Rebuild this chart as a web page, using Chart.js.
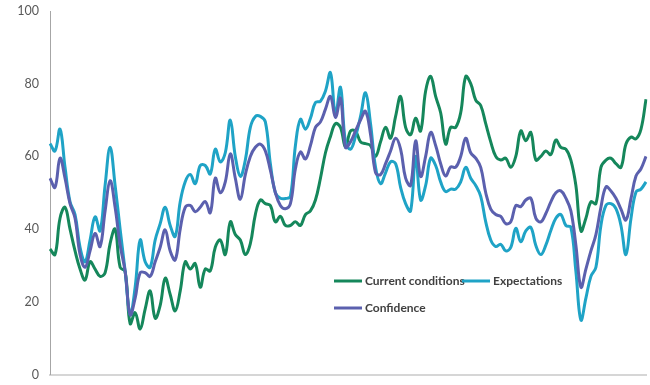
<!DOCTYPE html>
<html>
<head>
<meta charset="utf-8">
<script src="https://cdn.jsdelivr.net/npm/chart.js@4.4.1/dist/chart.umd.min.js"></script>
<style>
  html, body { margin: 0; padding: 0; background: #ffffff; }
  #wrap { width: 650px; height: 385px; }
</style>
</head>
<body>
<div id="wrap"><canvas id="chart" width="650" height="385"></canvas></div>
<script>
// monthly readings
const currentConditions = [
    34.5, 33, 43, 46, 40, 34, 29, 26, 31, 29,
    27, 28, 36, 40, 29.5, 28.3, 14, 17, 12.5, 18,
    23, 15.5, 19, 26.5, 22, 17.5, 23, 31, 29, 30.5,
    24, 29, 28.5, 35, 37, 33, 42, 38.5, 37, 33,
    36, 44, 48, 47, 46.5, 42, 43.5, 41, 41, 42,
    41, 44, 45, 48, 54, 61, 65.5, 69, 68, 62.5,
    67, 67, 64, 63.5, 63, 60, 64, 68, 65, 71,
    76.5, 68, 66, 70.5, 67, 78, 82, 76.5, 72, 63.4,
    68, 68, 72, 82, 80, 75.5, 74, 69, 64, 60,
    59, 59.5, 57, 60, 67, 64.3, 66.6, 59, 60, 61.5,
    60.5, 64.5, 62.5, 62, 59, 52, 39.5, 43, 47.5, 47,
    57, 59, 59.5, 58, 57, 63.4, 65.3, 64.8, 67.5, 75.7
];
const expectations = [
    63.5, 61.5, 67.5, 57, 47.5, 44, 35, 31, 37, 43.4,
    39.5, 52, 62.5, 52, 40, 28.5, 16.5, 24, 37, 31,
    29.5, 37, 41.5, 46, 41, 38, 47.5, 53, 55, 52.5,
    57.5, 57.5, 55.2, 62, 58.5, 61, 70, 60, 54.5, 59,
    68, 71, 71, 69.5, 58, 50, 48.5, 48.4, 49, 63,
    70.2, 67.5, 70.5, 74.8, 75.2, 78, 83, 71.5, 79, 64,
    62, 65.5, 71, 77.5, 69, 57, 52.5, 55.5, 58.5, 58,
    51.5, 47, 45, 60, 48, 52, 59.5, 57.5, 53, 50.3,
    51, 51, 53, 57, 54, 52, 49, 42, 37, 35.2,
    35.8, 34, 35, 40.2, 36.5, 39.5, 40.5, 35.5, 33, 35.6,
    39.6, 43, 44, 41, 40.5, 28.4, 15, 21, 27, 29.5,
    41, 46.5, 47, 45.6, 41, 33, 42.9, 50.2, 51, 53
];
const confidence = [
    54, 51.5, 59.5, 54, 47, 43, 33, 29.5, 34, 38.8,
    35.2, 45, 53.3, 46, 35.6, 28.4, 16.4, 21, 28, 28,
    27, 31, 35, 39.8, 34, 31.5, 40, 46, 46.5, 44.8,
    46, 47.6, 44.5, 54, 50, 53, 60.7, 54, 48.2, 55,
    60, 62.5, 63.4, 61.5, 56.2, 50, 46.5, 45.6, 47, 56.6,
    61.2, 59.3, 63, 68, 69.5, 73, 76.5, 70.7, 76, 62.5,
    64, 67, 70, 72.4, 66, 55.5, 55, 58, 61.5, 65,
    62, 54, 52, 64.3, 54.5, 60, 66.6, 63, 58, 54.6,
    57.1, 57, 60, 65, 61, 59.5, 57, 50, 45.5, 44,
    43.5, 41.5, 42, 46.5, 46.2, 48, 48.5, 43, 42, 44.3,
    47.5, 50, 50.5, 48.5, 45, 35.6, 24, 29, 34, 38.5,
    46, 51.6, 50.5, 48.5, 45.5, 42.5, 48.4, 54.6, 56.6, 60
];
const periods = currentConditions.map((v, i) => i + 1);
const yTicks = [0, 20, 40, 60, 80, 100];

const GREEN = '#15875b';
const CYAN = '#1fa3c6';
const PURPLE = '#5b60ae';

// legend sits inside the plot, like the original
const insideLegend = {
    id: 'insideLegend',
    afterDraw(chart) {
        const ctx = chart.ctx;
        const items = [
            {label: 'Current conditions', color: GREEN, x: 334, y: 281},
            {label: 'Expectations', color: CYAN, x: 462, y: 281},
            {label: 'Confidence', color: PURPLE, x: 334, y: 308},
        ];
        ctx.save();
        ctx.font = 'bold 12px Lato';
        ctx.textBaseline = 'middle';
        ctx.fillStyle = '#404040';
        items.forEach(it => {
            ctx.strokeStyle = it.color;
            ctx.lineWidth = 3;
            ctx.beginPath();
            ctx.moveTo(it.x, it.y);
            ctx.lineTo(it.x + 28, it.y);
            ctx.stroke();
            ctx.fillText(it.label, it.x + 31, it.y);
        });
        ctx.restore();
    }
};

function line(label, data, color, order) {
    return {
        label: label,
        data: data,
        borderColor: color,
        backgroundColor: color,
        borderWidth: 3,
        pointRadius: 0,
        tension: 0.4,
        fill: false,
        order: order,
    };
}

new Chart(document.getElementById('chart'), {
    type: 'line',
    data: {
        labels: periods,
        datasets: [
            line('Current conditions', currentConditions, GREEN, 2),
            line('Expectations', expectations, CYAN, 1),
            line('Confidence', confidence, PURPLE, 0),
        ],
    },
    options: {
        responsive: false,
        animation: false,
        layout: {padding: {top: 11, right: 4, bottom: 7, left: 0}},
        plugins: {
            legend: {display: false},
            tooltip: {enabled: false},
        },
        scales: {
            x: {
                ticks: {display: false},
                grid: {display: false},
                border: {display: true, color: '#d6d6d6', width: 2},
                afterFit(scale) {
                    scale.height = 0;
                },
            },
            y: {
                min: 0,
                max: 100,
                afterBuildTicks(scale) {
                    scale.ticks = yTicks.map(v => ({value: v}));
                },
                afterFit(scale) {
                    scale.width = 50;
                },
                ticks: {
                    color: '#595959',
                    font: {family: 'Lato', size: 12.5},
                    padding: 3,
                },
                grid: {display: false},
                border: {display: true, color: '#a6a6a6', width: 1},
            },
        },
    },
    plugins: [insideLegend],
});
</script>
</body>
</html>
